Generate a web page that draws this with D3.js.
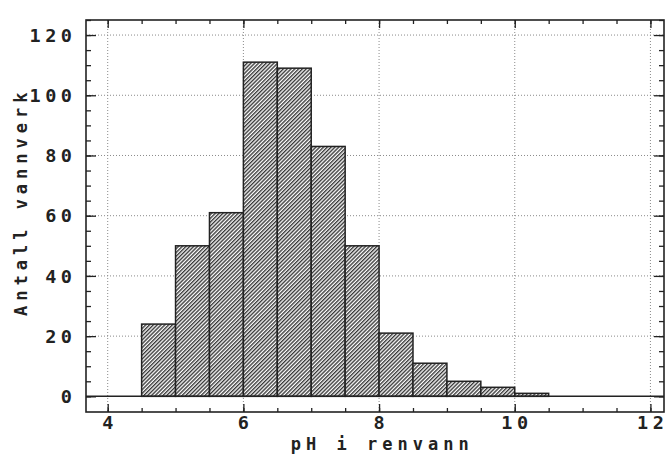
<!DOCTYPE html>
<html>
<head>
<meta charset="utf-8">
<script src="https://cdn.jsdelivr.net/npm/d3@7"></script>
<style>
  html, body { margin: 0; padding: 0; background: #fff; }
  svg { display: block; }
  text { font-family: "DejaVu Sans Mono", "Liberation Mono", monospace; fill: #222; font-weight: bold; }
</style>
</head>
<body>
<svg id="chart" width="667" height="454"></svg>
<script>
// ---- data ----
const binStarts = [4.5, 5.0, 5.5, 6.0, 6.5, 7.0, 7.5, 8.0, 8.5, 9.0, 9.5, 10.0];
const binWidth = 0.5;
const counts = [24, 50, 61, 111, 109, 83, 50, 21, 11, 5, 3, 1];
const xTickValues = [4, 6, 8, 10, 12];
const xTickLabels = ["4", "6", "8", "10", "12"];
const yTickValues = [0, 20, 40, 60, 80, 100, 120];
const yTickLabels = ["0", "20", "40", "60", "80", "100", "120"];
const xTitle = "pH i renvann";
const yTitle = "Antall vannverk";

// ---- layout ----
const svg = d3.select("#chart");
const pLeft = 86, pRight = 664, pTop = 20, pBottom = 412;
const x = d3.scaleLinear().domain([3.68, 12.2]).range([pLeft, pRight]);
const y = d3.scaleLinear().domain([-5.2, 125]).range([pBottom, pTop]);
const ink = "#222";
const fs = 18.5, ls = 4.5;

// hatch pattern
const defs = svg.append("defs");
const pat = defs.append("pattern")
  .attr("id", "hatch")
  .attr("patternUnits", "userSpaceOnUse")
  .attr("width", 2.7).attr("height", 10)
  .attr("patternTransform", "rotate(45)");
pat.append("rect").attr("width", 2.7).attr("height", 10).attr("fill", "#fff");
pat.append("line").attr("x1", 0.7).attr("x2", 0.7).attr("y1", 0).attr("y2", 10)
  .attr("stroke", "#2a2a2a").attr("stroke-width", 1.3);

// gridlines (dotted)
const grid = svg.append("g").attr("stroke", "#8a8a8a").attr("stroke-width", 1)
  .attr("stroke-dasharray", "1,2").attr("fill", "none");
yTickValues.filter(v => v > 0).forEach(v => {
  grid.append("line").attr("x1", pLeft).attr("x2", pRight).attr("y1", y(v)).attr("y2", y(v));
});
xTickValues.forEach(v => {
  grid.append("line").attr("x1", x(v)).attr("x2", x(v)).attr("y1", pTop).attr("y2", pBottom);
});

// bars
svg.append("g").selectAll("rect").data(binStarts).join("rect")
  .attr("x", (d) => x(d))
  .attr("width", (d) => x(d + binWidth) - x(d))
  .attr("y", (d, i) => y(counts[i]))
  .attr("height", (d, i) => y(0) - y(counts[i]))
  .attr("fill", "url(#hatch)")
  .attr("stroke", ink).attr("stroke-width", 1.5);

// zero baseline
svg.append("line").attr("x1", pLeft).attr("x2", pRight).attr("y1", y(0)).attr("y2", y(0))
  .attr("stroke", ink).attr("stroke-width", 1.5);

// frame
svg.append("rect").attr("x", pLeft).attr("y", pTop).attr("width", pRight - pLeft).attr("height", pBottom - pTop)
  .attr("fill", "none").attr("stroke", ink).attr("stroke-width", 1.6);

// ticks via d3 axes (inward)
const xMinor = d3.range(4, 12.01, 0.5);
const yMinor = d3.range(0, 125.01, 5);
function styleAxis(g) {
  g.select(".domain").remove();
  g.selectAll(".tick line").attr("stroke", ink).attr("stroke-width", 1.3);
  g.selectAll(".tick text").remove();
}
svg.append("g").attr("transform", `translate(0,${pBottom})`)
  .call(d3.axisTop(x).tickValues(xMinor).tickSize(4)).call(styleAxis);
svg.append("g").attr("transform", `translate(0,${pBottom})`)
  .call(d3.axisTop(x).tickValues(xTickValues).tickSize(8)).call(styleAxis);
svg.append("g").attr("transform", `translate(0,${pTop})`)
  .call(d3.axisBottom(x).tickValues(xMinor).tickSize(4)).call(styleAxis);
svg.append("g").attr("transform", `translate(0,${pTop})`)
  .call(d3.axisBottom(x).tickValues(xTickValues).tickSize(8)).call(styleAxis);
svg.append("g").attr("transform", `translate(${pLeft},0)`)
  .call(d3.axisRight(y).tickValues(yMinor).tickSize(5)).call(styleAxis);
svg.append("g").attr("transform", `translate(${pLeft},0)`)
  .call(d3.axisRight(y).tickValues(yTickValues).tickSize(10)).call(styleAxis);
svg.append("g").attr("transform", `translate(${pRight},0)`)
  .call(d3.axisLeft(y).tickValues(yMinor).tickSize(5)).call(styleAxis);
svg.append("g").attr("transform", `translate(${pRight},0)`)
  .call(d3.axisLeft(y).tickValues(yTickValues).tickSize(10)).call(styleAxis);

// tick labels
svg.append("g").selectAll("text").data(yTickValues).join("text")
  .attr("x", 72 + ls).attr("y", (d) => y(d)).attr("dy", "0.36em")
  .attr("text-anchor", "end").attr("font-size", fs).attr("letter-spacing", ls)
  .text((d, i) => yTickLabels[i]);
svg.append("g").selectAll("text").data(xTickValues).join("text")
  .attr("x", (d) => x(d) + ls / 2).attr("y", 428.5)
  .attr("text-anchor", "middle").attr("font-size", fs).attr("letter-spacing", ls)
  .text((d, i) => xTickLabels[i]);

// titles
svg.append("text").attr("x", 380 + ls / 2).attr("y", 449.5)
  .attr("text-anchor", "middle").attr("font-size", 17).attr("letter-spacing", ls + 0.5)
  .text(xTitle);
svg.append("text").attr("transform", `translate(27,${204 - ls / 2}) rotate(-90)`)
  .attr("text-anchor", "middle").attr("font-size", fs - 1.5).attr("letter-spacing", ls + 0.5)
  .text(yTitle);
</script>
</body>
</html>
